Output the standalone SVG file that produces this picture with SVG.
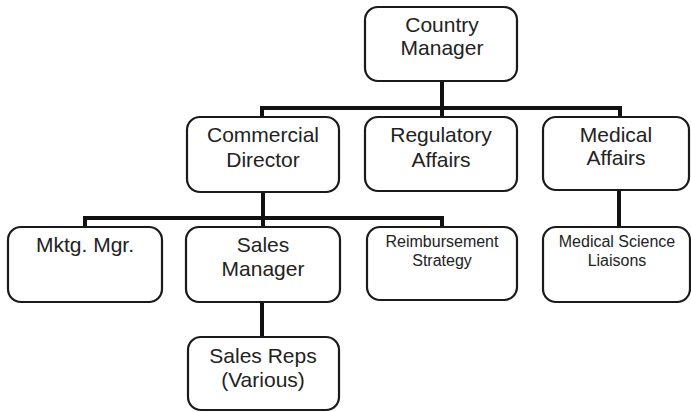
<svg xmlns="http://www.w3.org/2000/svg" width="691" height="412" viewBox="0 0 691 412">
<style>
.box{fill:#fff;stroke:#1a1a1a;stroke-width:2.2}
.t{font-family:"Liberation Sans",Arial,sans-serif;font-size:21px;fill:#222;text-anchor:middle}
.s{font-family:"Liberation Sans",Arial,sans-serif;font-size:16px;fill:#222;text-anchor:middle}
.c{fill:none;stroke:#111;stroke-width:4;stroke-linecap:square}
</style>
<rect width="691" height="412" fill="#fff"/>
<g id="connectors">
<path class="c" d="M442 82V108M262 117V108H620V117M442 108V117"/>
<path class="c" d="M263 192V218M85 226V218H442V226M263 218V226"/>
<path class="c" d="M619 190V226"/>
<path class="c" d="M262 302V336"/>
</g>
<g id="country-manager">
<rect class="box" x="365" y="7" width="152" height="74" rx="13"/>
<text class="t" x="442" y="32">Country</text>
<text class="t" x="442" y="55">Manager</text>
</g>
<g id="commercial-director">
<rect class="box" x="187" y="117" width="152" height="75" rx="13"/>
<text class="t" x="263" y="142">Commercial</text>
<text class="t" x="263" y="167">Director</text>
</g>
<g id="regulatory-affairs">
<rect class="box" x="365" y="117" width="152" height="74" rx="13"/>
<text class="t" x="441" y="142">Regulatory</text>
<text class="t" x="441" y="167">Affairs</text>
</g>
<g id="medical-affairs">
<rect class="box" x="543" y="117" width="146" height="73" rx="13"/>
<text class="t" x="616" y="142">Medical</text>
<text class="t" x="616" y="165">Affairs</text>
</g>
<g id="mktg-mgr">
<rect class="box" x="8" y="227" width="154" height="75" rx="13"/>
<text class="t" x="85" y="252">Mktg. Mgr.</text>
</g>
<g id="sales-manager">
<rect class="box" x="186" y="227" width="154" height="75" rx="13"/>
<text class="t" x="263" y="252">Sales</text>
<text class="t" x="263" y="276">Manager</text>
</g>
<g id="reimbursement-strategy">
<rect class="box" x="367" y="227" width="150" height="73" rx="13"/>
<text class="s" x="442" y="247">Reimbursement</text>
<text class="s" x="442" y="266">Strategy</text>
</g>
<g id="medical-science-liaisons">
<rect class="box" x="543" y="227" width="147" height="75" rx="13"/>
<text class="s" x="617" y="247">Medical Science</text>
<text class="s" x="617" y="266">Liaisons</text>
</g>
<g id="sales-reps">
<rect class="box" x="188" y="337" width="151" height="73" rx="13"/>
<text class="t" x="263" y="363">Sales Reps</text>
<text class="t" x="263" y="387">(Various)</text>
</g>
</svg>
